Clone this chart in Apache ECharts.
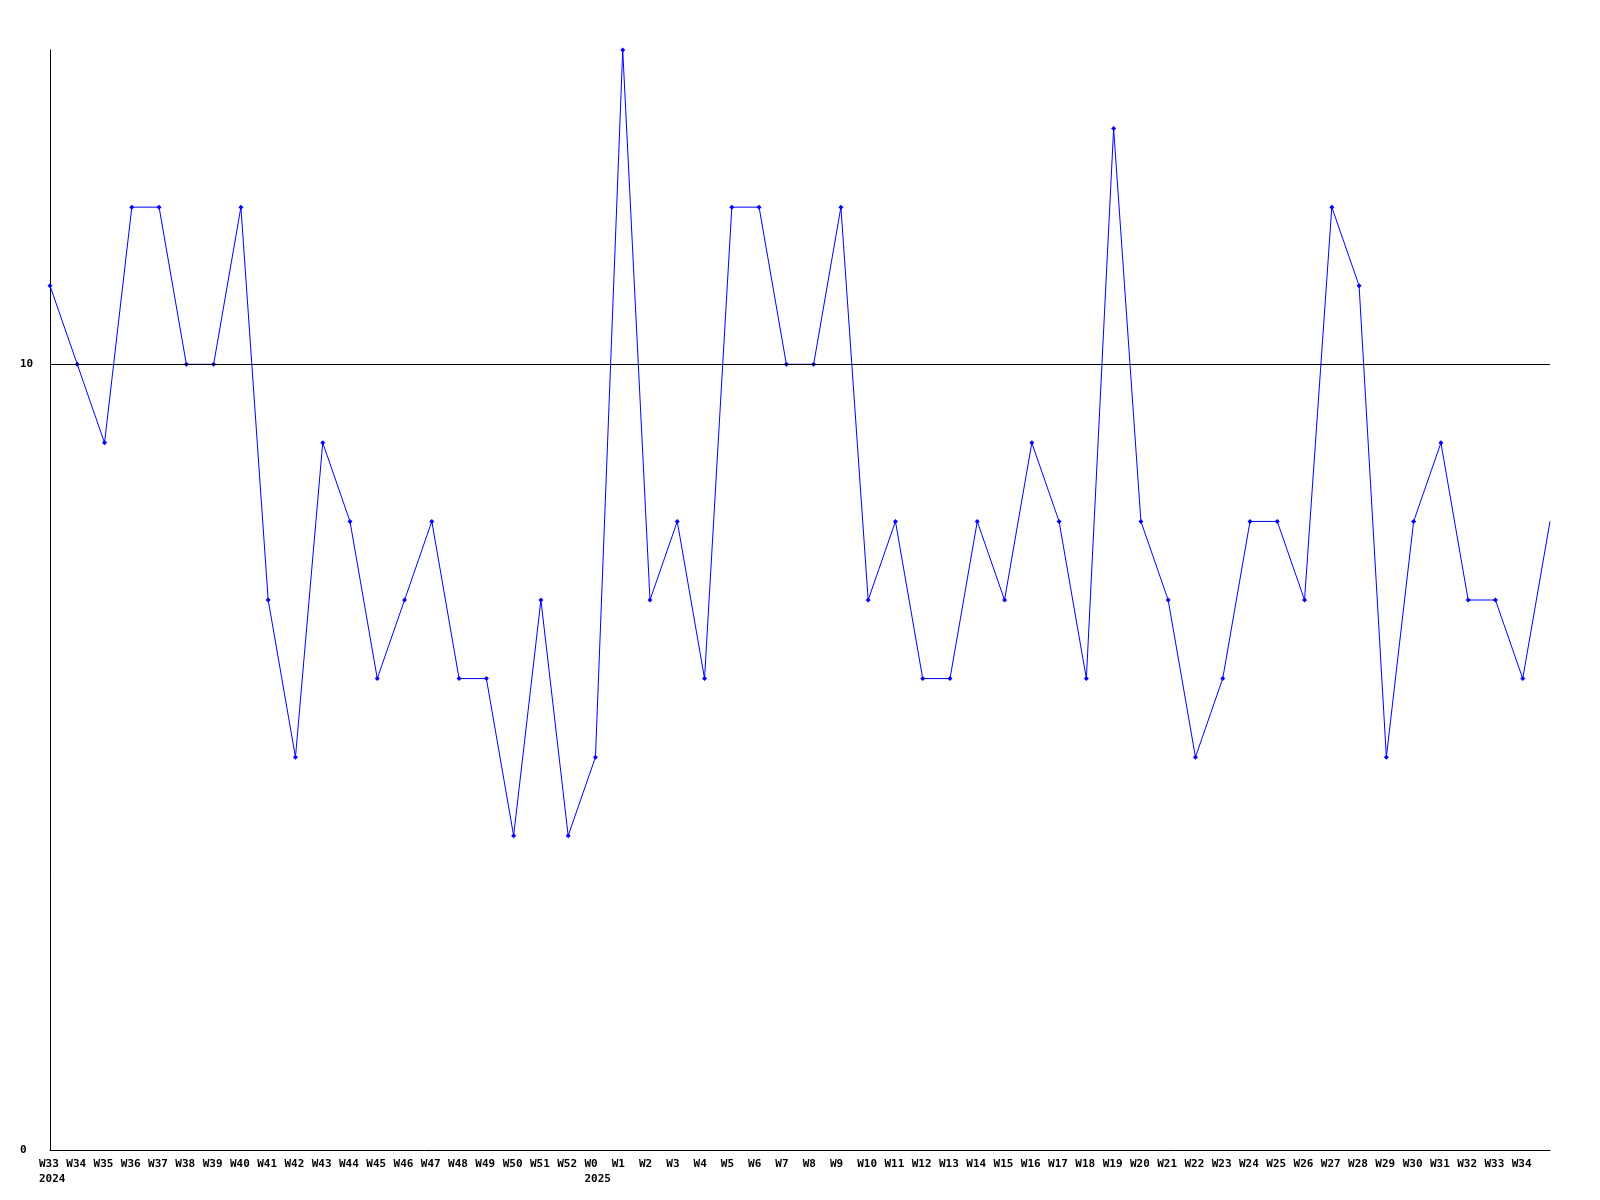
<!DOCTYPE html>
<html><head><meta charset="utf-8">
<script src="https://cdn.jsdelivr.net/npm/echarts@6/dist/echarts.min.js"></script>
<style>html,body{margin:0;padding:0;background:#fff}#c{width:1600px;height:1200px}</style>
</head><body><div id="c"></div>
<script>
const weeks = ['W33','W34','W35','W36','W37','W38','W39','W40','W41','W42','W43','W44','W45','W46','W47','W48','W49','W50','W51','W52',
  'W0','W1','W2','W3','W4','W5','W6','W7','W8','W9','W10','W11','W12','W13','W14','W15','W16','W17','W18','W19','W20','W21','W22','W23','W24','W25','W26','W27','W28','W29','W30','W31','W32','W33','W34',''];
const yearLabels = {0:'2024', 20:'2025'};
const values = [11,10,9,12,12,10,10,12,7,5,9,8,6,7,8,6,6,4,7,4,
  5,14,7,8,6,12,12,10,10,12,7,8,6,6,8,7,9,8,6,13,8,7,5,6,8,8,7,12,11,5,8,9,7,7,6,8];
const yTicks = [0,10];
const refLine = 10;

const cats = weeks.map((w,i)=> yearLabels[i] ? w + '\n' + yearLabels[i] : w);
const seriesData = values.map((v,i)=> i===values.length-1 ? {value:v, symbol:'none'} : v);
const chart = echarts.init(document.getElementById('c'));
const font = 'DejaVu Sans Mono';
chart.setOption({
  animation:false,
  grid:{left:50,right:50,top:50,bottom:50,containLabel:false},
  xAxis:{type:'category',data:cats,boundaryGap:false,
    axisLine:{lineStyle:{color:'#000',width:1}},axisTick:{show:false},
    axisLabel:{interval:0,color:'#000',fontFamily:font,fontWeight:'bold',fontSize:11,margin:7,lineHeight:15,
      align:'left',padding:[0,0,0,-11]}},
  yAxis:{type:'value',min:0,max:14,interval:10,
    axisLine:{show:true,lineStyle:{color:'#000',width:1}},axisTick:{show:false},splitLine:{show:false},
    axisLabel:{color:'#000',fontFamily:font,fontWeight:'bold',fontSize:11,align:'left',margin:30,
      formatter:(v)=>yTicks.includes(v)?String(v):''}},
  series:[{type:'line',data:seriesData,symbol:'diamond',symbolSize:5,showSymbol:true,
    lineStyle:{color:'#0000ff',width:1},itemStyle:{color:'#0000ff'},
    markLine:{silent:true,symbol:'none',label:{show:false},lineStyle:{color:'#000',type:'solid',width:1},data:[{yAxis:refLine}]}}]
});
</script></body></html>
